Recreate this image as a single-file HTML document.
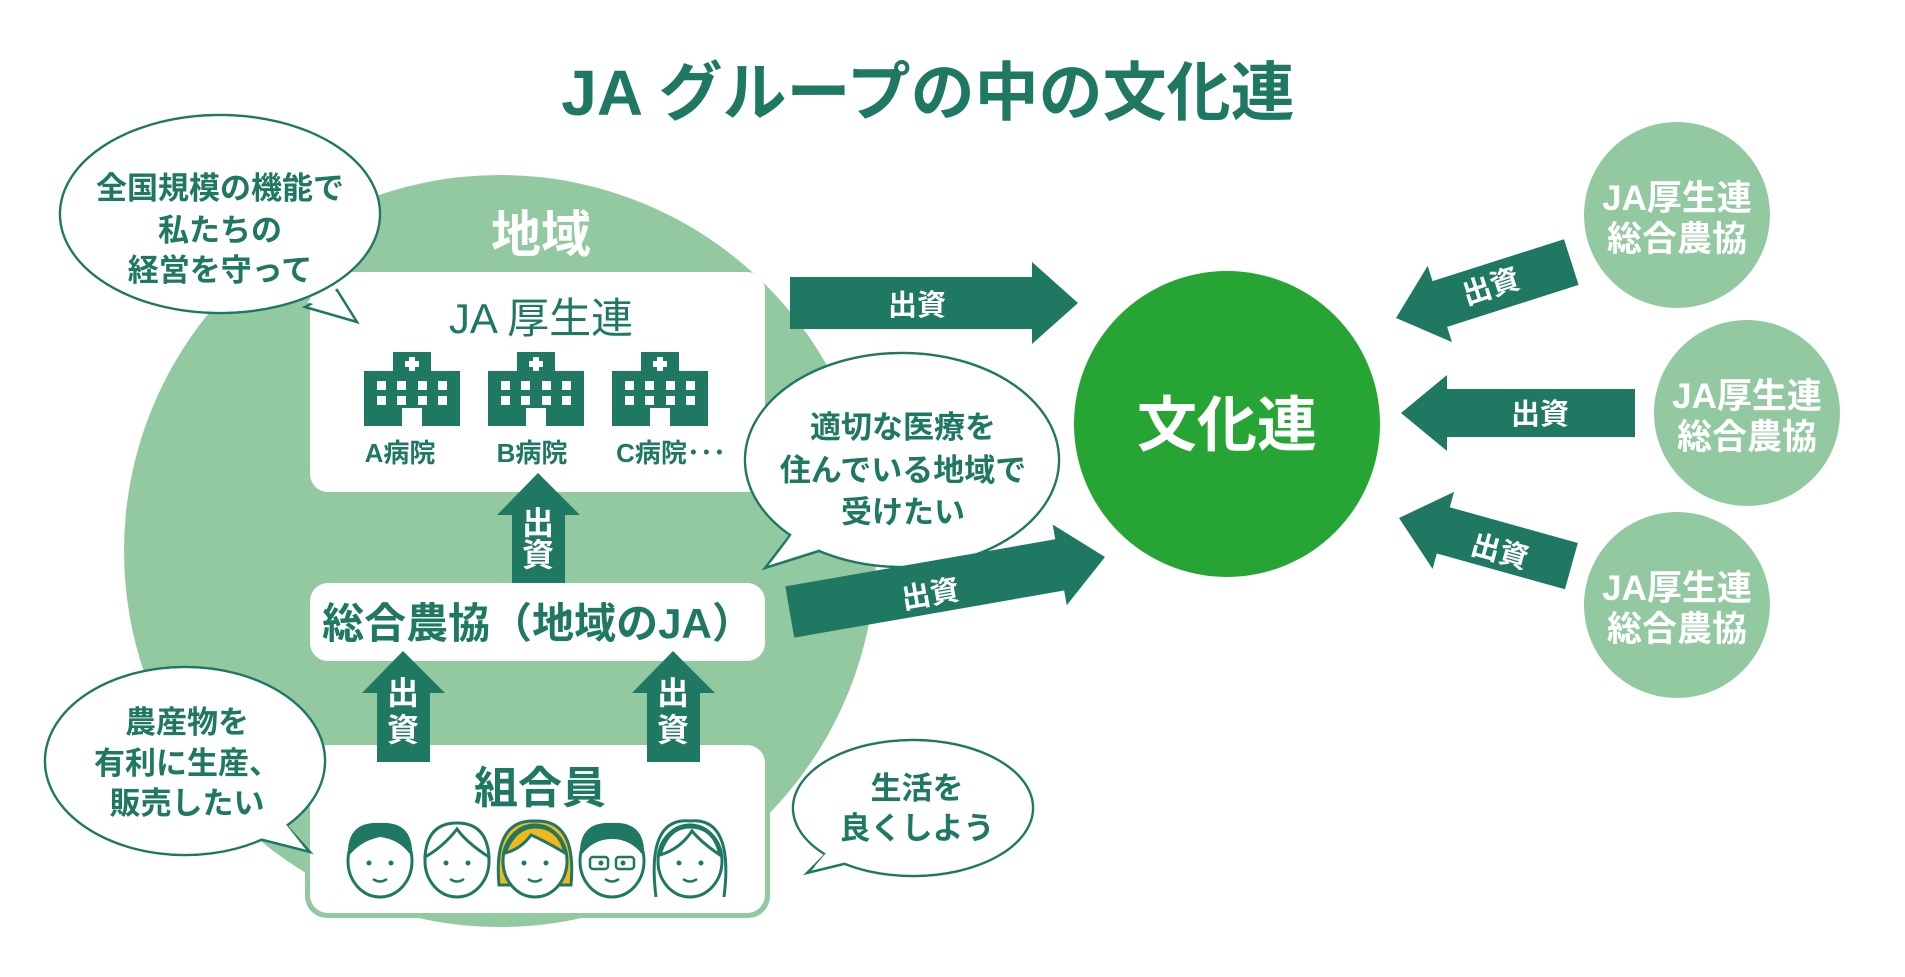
<!DOCTYPE html>
<html><head><meta charset="utf-8"><style>
html,body{margin:0;padding:0;background:#fff;}
svg{display:block;}
text{font-family:"Liberation Sans","Noto Sans CJK JP",sans-serif;}
</style></head><body>
<svg width="1905" height="977" viewBox="0 0 1905 977" xmlns="http://www.w3.org/2000/svg">
<defs>
<g id="hosp">
 <rect x="0" y="19" width="96" height="55" fill="#1e7862"/>
 <rect x="29" y="0" width="38" height="25" fill="#1e7862"/>
 <rect x="45" y="5" width="6" height="14" fill="#fff"/><rect x="41" y="9" width="14" height="6" fill="#fff"/>
 <rect x="38" y="56" width="20" height="18" fill="#fff"/>
 <g fill="#fff">
  <rect x="13" y="29" width="9" height="9"/><rect x="33" y="29" width="9" height="9"/><rect x="54" y="29" width="9" height="9"/><rect x="74" y="29" width="9" height="9"/>
  <rect x="13" y="44" width="9" height="9"/><rect x="33" y="44" width="9" height="9"/><rect x="54" y="44" width="9" height="9"/><rect x="74" y="44" width="9" height="9"/>
 </g>
</g>
<g id="face">
 <ellipse cx="0" cy="4" rx="32" ry="36" fill="#fff" stroke="#1e7862" stroke-width="3"/>
 <circle cx="-11" cy="6" r="2.5" fill="#1e7862"/><circle cx="11" cy="6" r="2.5" fill="#1e7862"/>
 <path d="M-7 22 Q0 27 7 22" stroke="#1e7862" stroke-width="2.5" fill="none"/>
</g>
</defs>

<text x="928" y="115" text-anchor="middle" font-size="64" font-weight="bold" fill="#1e7862">JA グループの中の文化連</text>

<circle cx="500" cy="551" r="376" fill="#93c9a0"/>
<text x="541" y="252" text-anchor="middle" font-size="50" font-weight="bold" fill="#fff">地域</text>

<rect x="310" y="272" width="455" height="220" rx="18" fill="#fff"/>
<text x="541" y="333" text-anchor="middle" font-size="42" fill="#1e7862">JA 厚生連</text>
<use href="#hosp" x="364" y="352"/>
<use href="#hosp" x="488" y="352"/>
<use href="#hosp" x="612" y="352"/>
<text x="400" y="462" text-anchor="middle" font-size="26" font-weight="bold" fill="#1e7862">A病院</text>
<text x="532" y="462" text-anchor="middle" font-size="26" font-weight="bold" fill="#1e7862">B病院</text>
<text x="671" y="462" text-anchor="middle" font-size="26" font-weight="bold" fill="#1e7862">C病院･･･</text>

<rect x="310" y="583" width="455" height="78" rx="18" fill="#fff"/>
<text x="538" y="638" text-anchor="middle" font-size="42" font-weight="bold" fill="#1e7862">総合農協（地域のJA）</text>

<rect x="305" y="740" width="465" height="178" rx="22" fill="#93c9a0"/>
<rect x="310" y="745" width="455" height="168" rx="18" fill="#fff"/>
<text x="540" y="803" text-anchor="middle" font-size="44" font-weight="bold" fill="#1e7862">組合員</text>
<g>
 <g transform="translate(380,857)"><use href="#face"/><path d="M-32 0 Q-34 -36 0 -34 Q34 -36 32 0 Q20 -18 0 -20 Q-20 -16 -32 0Z" fill="#1e7862"/></g>
 <g transform="translate(457,857)"><use href="#face"/><path d="M-32 0 Q-30 -34 0 -34 Q30 -34 32 0 Q10 -14 0 -28 Q-14 -10 -32 0Z" fill="#fff" stroke="#1e7862" stroke-width="3"/></g>
 <g transform="translate(535,857)"><path d="M-36 28 Q-42 -38 0 -36 Q42 -38 36 28Z" fill="#f2b71d" stroke="#1e7862" stroke-width="3"/><use href="#face"/><path d="M-30 -4 Q-20 -30 0 -30 Q24 -30 30 -4 Q10 -16 -4 -22 Q-14 -8 -30 -4Z" fill="#f2b71d" stroke="#1e7862" stroke-width="3"/></g>
 <g transform="translate(612,857)"><use href="#face"/><path d="M-32 0 Q-34 -36 0 -34 Q34 -36 32 0 Q20 -18 0 -18 Q-20 -18 -32 0Z" fill="#1e7862"/><rect x="-22" y="0" width="18" height="12" rx="3" fill="none" stroke="#1e7862" stroke-width="2.5"/><rect x="4" y="0" width="18" height="12" rx="3" fill="none" stroke="#1e7862" stroke-width="2.5"/></g>
 <g transform="translate(690,857)"><path d="M-34 40 Q-44 -40 0 -36 Q44 -40 34 40" fill="#fff" stroke="#1e7862" stroke-width="3"/><use href="#face"/><path d="M-30 -2 Q-22 -30 0 -30 Q24 -30 30 -2 Q12 -14 2 -26 Q-10 -8 -30 -2Z" fill="#fff" stroke="#1e7862" stroke-width="3"/></g>
</g>

<g fill="#1e7862">
 <polygon points="512,583 512,515 497,515 538,473 580,515 565,515 565,583"/>
 <polygon points="377,762 377,693 362,693 403,651 445,693 430,693 430,762"/>
 <polygon points="647,762 647,693 632,693 673,651 715,693 700,693 700,762"/>
</g>
<g fill="#fff" font-size="32" font-weight="bold" text-anchor="middle">
 <text x="538" y="534">出</text><text x="538" y="566">資</text>
 <text x="403" y="704">出</text><text x="403" y="741">資</text>
 <text x="673" y="704">出</text><text x="673" y="741">資</text>
</g>

<g fill="#fff" stroke="#1e7862" stroke-width="2.5">
 <ellipse cx="220" cy="214" rx="160" ry="99"/>
 <polygon points="337,290 357,322 305,307"/>
 <ellipse cx="185" cy="761" rx="140" ry="94"/>
 <polygon points="283,822 310,852 255,838"/>
 <ellipse cx="902" cy="460" rx="157" ry="107"/>
 <polygon points="792,533 765,568 822,550"/>
 <ellipse cx="913" cy="808" rx="120" ry="68"/>
 <polygon points="830,850 807,873 852,862"/>
</g>
<g fill="#fff">
 <ellipse cx="220" cy="214" rx="158.8" ry="97.8"/>
 <polygon points="333,286 350,316 307,302"/>
 <ellipse cx="185" cy="761" rx="138.8" ry="92.8"/>
 <polygon points="281,818 303,846 258,834"/>
 <ellipse cx="902" cy="460" rx="155.8" ry="105.8"/>
 <polygon points="795,530 772,562 818,547"/>
 <ellipse cx="913" cy="808" rx="118.8" ry="66.8"/>
 <polygon points="832,846 814,867 848,858"/>
</g>
<g fill="#1e7862" font-size="31" font-weight="bold" text-anchor="middle">
 <text x="220" y="199">全国規模の機能で</text>
 <text x="220" y="241">私たちの</text>
 <text x="220" y="281">経営を守って</text>
 <text x="187" y="733">農産物を</text>
 <text x="187" y="774">有利に生産、</text>
 <text x="187" y="814">販売したい</text>
 <text x="903" y="438">適切な医療を</text>
 <text x="903" y="481">住んでいる地域で</text>
 <text x="903" y="523">受けたい</text>
 <text x="917" y="799">生活を</text>
 <text x="917" y="839">良くしよう</text>
</g>

<circle cx="1227" cy="424" r="153" fill="#27a534"/>
<text x="1227" y="446" text-anchor="middle" font-size="60" font-weight="bold" fill="#fff">文化連</text>

<g fill="#93c9a0">
 <circle cx="1677" cy="215" r="93"/>
 <circle cx="1747" cy="413" r="93"/>
 <circle cx="1677" cy="605" r="93"/>
</g>
<g fill="#fff" font-size="35" font-weight="bold" text-anchor="middle">
 <text x="1677" y="210">JA厚生連</text><text x="1677" y="251">総合農協</text>
 <text x="1747" y="408">JA厚生連</text><text x="1747" y="449">総合農協</text>
 <text x="1677" y="600">JA厚生連</text><text x="1677" y="641">総合農協</text>
</g>

<g fill="#1e7862">
 <polygon transform="translate(1078,303)" points="-288,-26 -46,-26 -46,-41 0,0 -46,41 -46,26 -288,26"/>
 <polygon transform="translate(1105,557) rotate(-9.9)" points="-320,-26 -46,-26 -46,-41 0,0 -46,41 -46,26 -320,26"/>
 <polygon transform="translate(1396,318) rotate(162.3)" points="-184,-24 -46,-24 -46,-40 0,0 -46,40 -46,24 -184,24"/>
 <polygon transform="translate(1401,413) rotate(180)" points="-234,-24 -46,-24 -46,-38 0,0 -46,38 -46,24 -234,24"/>
 <polygon transform="translate(1399,518) rotate(195.6)" points="-179,-24 -46,-24 -46,-40 0,0 -46,40 -46,24 -179,24"/>
</g>
<g fill="#fff" font-size="29" font-weight="bold" text-anchor="middle">
 <text x="917" y="315">出資</text>
 <text transform="translate(932,604) rotate(-10)">出資</text>
 <text transform="translate(1494,296) rotate(-18)">出資</text>
 <text x="1540" y="424">出資</text>
 <text transform="translate(1497,561) rotate(15.6)">出資</text>
</g>
</svg>
</body></html>
